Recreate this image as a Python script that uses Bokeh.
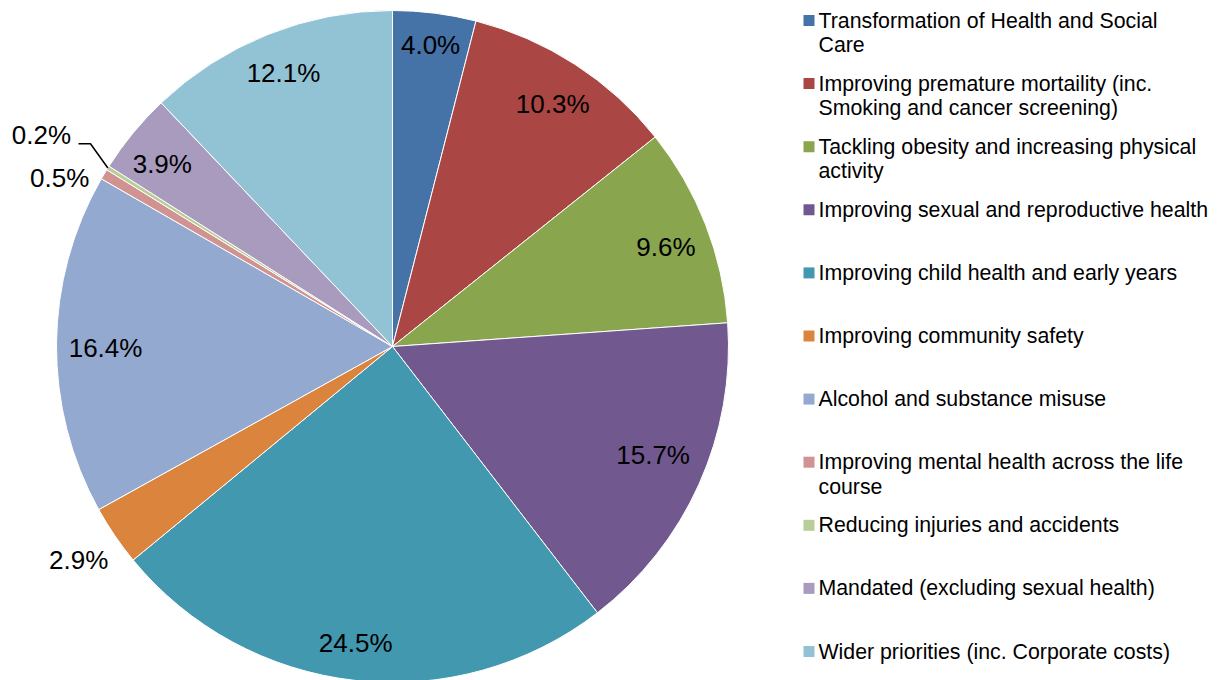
import math
from bokeh.plotting import figure
from bokeh.models import Range1d, ColumnDataSource
from bokeh.core.properties import value
from bokeh.embed import file_html
from bokeh.resources import INLINE

# ---- data ----
categories = [
    "Transformation of Health and Social\nCare",
    "Improving premature mortaility (inc.\nSmoking and cancer screening)",
    "Tackling obesity and increasing physical\nactivity",
    "Improving sexual and reproductive health",
    "Improving child health and early years",
    "Improving community safety",
    "Alcohol and substance misuse",
    "Improving mental health across the life\ncourse",
    "Reducing injuries and accidents",
    "Mandated (excluding sexual health)",
    "Wider priorities (inc. Corporate costs)",
]
shares = [4.0, 10.3, 9.6, 15.7, 24.5, 2.9, 16.4, 0.5, 0.2, 3.9, 12.1]
colors = ["#4572A7", "#AA4643", "#89A54E", "#71588F", "#4198AF", "#DB843D",
          "#93A9CF", "#D19392", "#B9CD96", "#A99BBD", "#91C3D5"]

# ---- layout / style ----
W, H = 1217, 680
CX, CY_TOP, R = 392, 346, 336          # pie centre (from top) and radius, px
FONT = "Liberation Sans"
# label placement per slice: (radius factor, angle shift in degrees)
placement = [(0.905, 0.0), (0.866, 0.5), (0.866, 1.3), (0.84, -1.6),
             (0.89, 0.6), (1.13, 0.0), (0.854, -0.7), (1.11, -4.0),
             (1.22, -1.0), (0.875, -1.0), (0.875, 0.0)]

p = figure(width=W, height=H, output_backend="svg", toolbar_location=None,
           x_range=Range1d(0, W), y_range=Range1d(0, H), min_border=0)
p.axis.visible = False
p.grid.visible = False
p.outline_line_color = None
p.background_fill_color = "white"

cy = H - CY_TOP
total = sum(shares)
starts, ends, mids = [], [], []
cum = 0.0
for s in shares:
    a0 = cum / total
    cum += s
    a1 = cum / total
    starts.append(math.pi / 2 - a0 * 2 * math.pi)
    ends.append(math.pi / 2 - a1 * 2 * math.pi)
    mids.append((a0 + a1) / 2 * 360.0)   # degrees clockwise from top

src = ColumnDataSource(dict(start=starts, end=ends, color=colors))
p.wedge(x=CX, y=cy, radius=R, start_angle="start", end_angle="end",
        direction="clock", fill_color="color", line_color="white",
        line_width=1, source=src)

# ---- data labels ----
lx, ly, lt = [], [], []
for i, (s, m) in enumerate(zip(shares, mids)):
    rf, shift = placement[i]
    ang = math.radians(m + shift)
    lx.append(CX + rf * R * math.sin(ang))
    ly.append(cy + rf * R * math.cos(ang))
    lt.append(f"{s:.1f}%")
p.text(x=lx, y=ly, text=lt, text_align="center", text_baseline="middle",
       text_font=value(FONT), text_font_size="26px", text_color="black")

# leader line for the tiny 0.2% slice
i = 8
ang = math.radians(mids[i])
ex, ey = CX + R * math.sin(ang), cy + R * math.cos(ang)
p.line(x=[lx[i] + 37, lx[i] + 49, ex], y=[ly[i] - 9, ly[i] - 9, ey],
       line_color="black", line_width=1.5)

# ---- legend ----
LEG_X, LEG_Y0, LEG_STEP, LINE_H = 808.5, 20, 63.1, 24.5
sq_x, sq_y = [], []
tx, ty, tt = [], [], []
for k, lab in enumerate(categories):
    yk = H - (LEG_Y0 + k * LEG_STEP)
    sq_x.append(LEG_X)
    sq_y.append(yk)
    for j, line in enumerate(lab.split("\n")):
        tx.append(LEG_X + 9.5)
        ty.append(yk - j * LINE_H)
        tt.append(line)
p.rect(x=sq_x, y=sq_y, width=11, height=11, fill_color=colors, line_color=None)
p.text(x=tx, y=ty, text=tt, text_align="left", text_baseline="middle",
       text_font=value(FONT), text_font_size="21.3px", text_color="black")

open("out.html", "w").write(file_html(p, INLINE))
